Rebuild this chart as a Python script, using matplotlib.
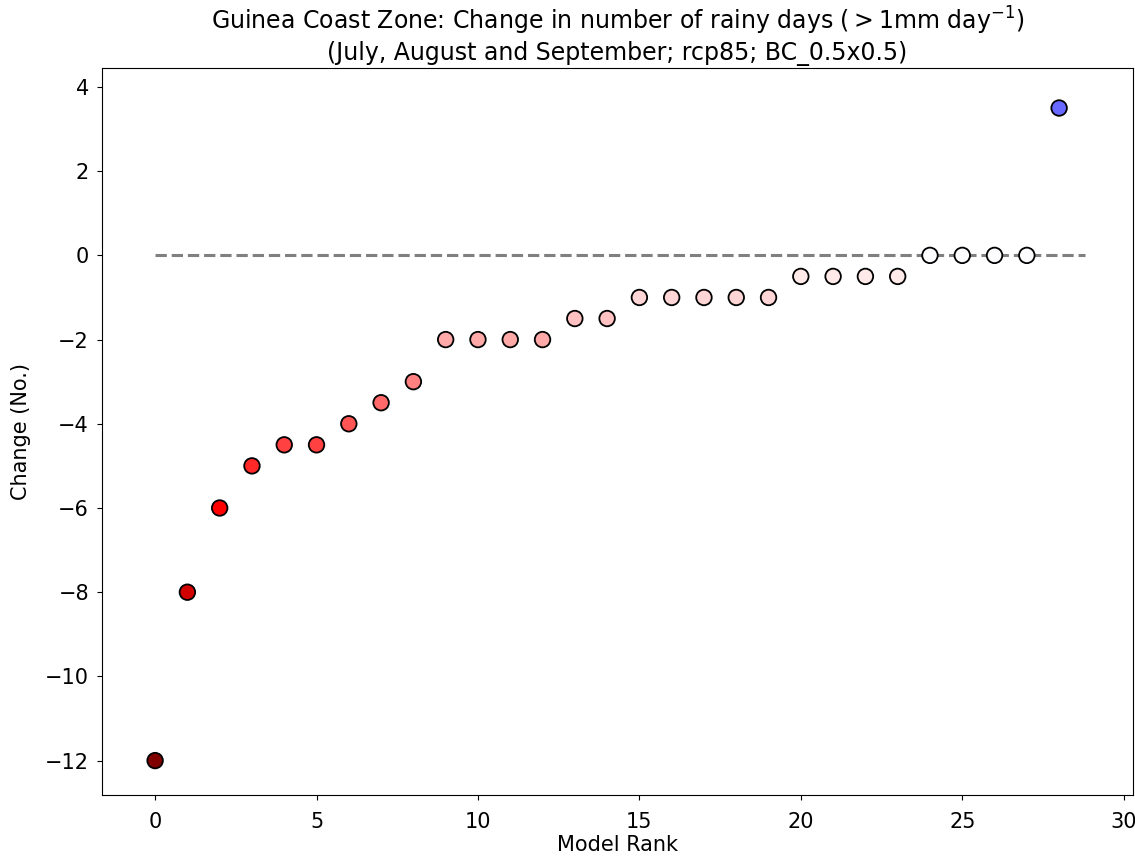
import numpy as np
import matplotlib
matplotlib.use("Agg")
import matplotlib.pyplot as plt

# model rank and change in rainy days
rank = list(range(29))
change = [-12, -8, -6, -5, -4.5, -4.5, -4, -3.5, -3, -2, -2, -2, -2, -1.5, -1.5,
          -1, -1, -1, -1, -1, -0.5, -0.5, -0.5, -0.5, 0, 0, 0, 0, 3.5]

fig, ax = plt.subplots(figsize=(11.35, 8.61), dpi=100)
fig.subplots_adjust(left=0.09, right=0.998, top=0.921, bottom=0.077)

ax.plot([0, 28.8], [0, 0], linestyle="--", color="grey", linewidth=2.2, zorder=1)
ax.scatter(rank, change, c=change, cmap="seismic_r", vmin=-12, vmax=12,
           s=125, edgecolors="black", linewidths=1.3, zorder=2)

ax.set_xlim(-1.64, 30.28)
ax.set_ylim(-12.81, 4.45)
ax.set_xticks([0, 5, 10, 15, 20, 25, 30])
ax.set_yticks([-12, -10, -8, -6, -4, -2, 0, 2, 4])
ax.tick_params(axis="x", labelsize=15, pad=9)
ax.tick_params(axis="y", labelsize=15, pad=6)
ax.set_xlabel("Model Rank", fontsize=15, labelpad=2)
ax.set_ylabel("Change (No.)", fontsize=15, labelpad=10)
ax.set_title("Guinea Coast Zone: Change in number of rainy days ($>$1mm day$^{-1}$)\n"
             "(July, August and September; rcp85; BC_0.5x0.5)", fontsize=17)

fig.savefig("out.png", dpi=100)
